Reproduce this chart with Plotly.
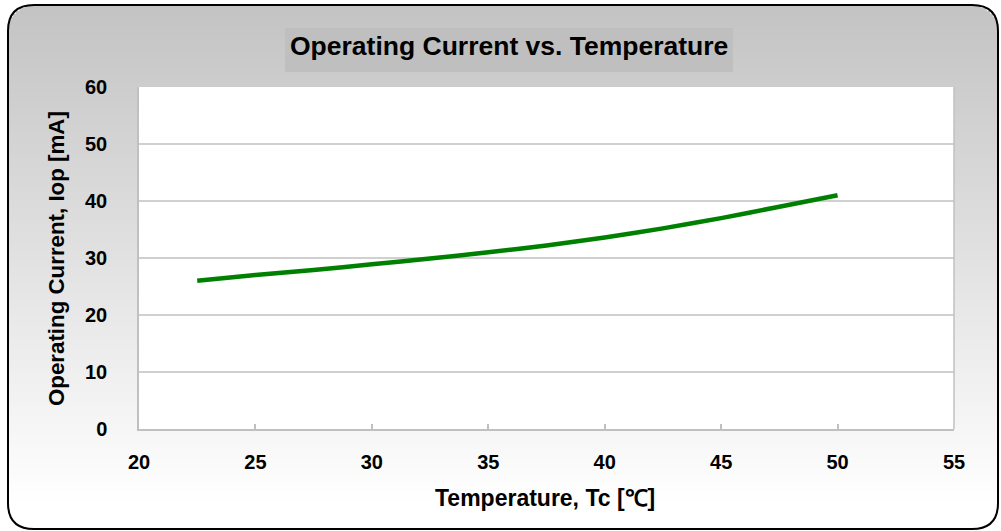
import math
import plotly.graph_objects as go

# ---- data ----
temperature_c = [22.5, 25, 27.5, 30, 32.5, 35, 37.5, 40, 42.5, 45, 47.5, 50]
current_ma = [26.0, 27.0, 27.9, 28.9, 29.9, 31.0, 32.2, 33.6, 35.2, 37.0, 39.0, 41.0]
x_ticks = [20, 25, 30, 35, 40, 45, 50, 55]
y_ticks = [0, 10, 20, 30, 40, 50, 60]
title_text = "Operating Current vs. Temperature"
x_title = "Temperature, Tc [℃]"
y_title = "Operating Current, Iop [mA]"

W, H = 1001, 531
L, R, T, B = 139, 954, 87, 429


def px(x):
    return (x - L) / (R - L)


def py(y):
    return (B - y) / (B - T)


shapes = []
# gradient background clipped to rounded rectangle
bx0, bx1, by0, by1, rad = 8, 998, 5, 529, 26
step = 3
y = by0
while y < by1:
    yc = y + step / 2
    t = (yc - by0) / (by1 - by0)
    g = int(round(195 + (255 - 195) * min(1.0, t * 1.05)))
    inset = 0.0
    if yc < by0 + rad:
        d = by0 + rad - yc
        inset = rad - math.sqrt(max(0.0, rad * rad - d * d))
    elif yc > by1 - rad:
        d = yc - (by1 - rad)
        inset = rad - math.sqrt(max(0.0, rad * rad - d * d))
    shapes.append(dict(type="rect", xref="paper", yref="paper", layer="below",
                       x0=px(bx0 + inset), x1=px(bx1 - inset),
                       y0=py(y), y1=py(min(y + step + 0.6, by1)),
                       line=dict(width=0), fillcolor=f"rgb({g},{g},{g})"))
    y += step

# rounded border
def P(x, y):
    return f"{px(x)},{py(y)}"

path = (f"M {P(bx0 + rad, by0)} L {P(bx1 - rad, by0)} Q {P(bx1, by0)} {P(bx1, by0 + rad)} "
        f"L {P(bx1, by1 - rad)} Q {P(bx1, by1)} {P(bx1 - rad, by1)} "
        f"L {P(bx0 + rad, by1)} Q {P(bx0, by1)} {P(bx0, by1 - rad)} "
        f"L {P(bx0, by0 + rad)} Q {P(bx0, by0)} {P(bx0 + rad, by0)} Z")
shapes.append(dict(type="path", path=path, xref="paper", yref="paper", layer="below",
                   line=dict(color="#000000", width=2)))

# title box
shapes.append(dict(type="rect", xref="paper", yref="paper", layer="below",
                   x0=px(285), x1=px(733), y0=py(28), y1=py(72),
                   line=dict(width=0), fillcolor="#bfbfbf"))
# white plot area
shapes.append(dict(type="rect", xref="paper", yref="paper", layer="below",
                   x0=0, x1=1, y0=0, y1=1, line=dict(width=0), fillcolor="#ffffff"))
# right edge of plot area
shapes.append(dict(type="line", xref="paper", yref="paper", layer="above",
                   x0=1, x1=1, y0=0, y1=1, line=dict(color="#c0c0c0", width=1.5)))

fig = go.Figure()
fig.add_trace(go.Scatter(x=temperature_c, y=current_ma, mode="lines",
                         line=dict(color="#008000", width=4.5, shape="spline", smoothing=0.8),
                         hoverinfo="x+y", showlegend=False))

font = "Liberation Sans, Arial, sans-serif"
fig.update_layout(
    width=W, height=H,
    margin=dict(l=L, r=W - R, t=T, b=H - B),
    paper_bgcolor="#ffffff", plot_bgcolor="#ffffff",
    shapes=shapes,
    font=dict(family=font, color="#000000"),
    annotations=[
        dict(text="<b>" + title_text + "</b>", xref="paper", yref="paper",
             x=px(509), y=py(46), xanchor="center", yanchor="middle",
             showarrow=False, font=dict(size=26.5, family=font)),
        dict(text="<b>" + x_title + "</b>", xref="paper", yref="paper",
             x=px(545), y=py(498), xanchor="center", yanchor="middle",
             showarrow=False, font=dict(size=23, family=font)),
        dict(text="<b>" + y_title + "</b>", xref="paper", yref="paper",
             x=px(56), y=py(259), xanchor="center", yanchor="middle",
             showarrow=False, textangle=-90, font=dict(size=22.3, family=font)),
    ],
    xaxis=dict(range=[20, 55], tickvals=x_ticks, ticktext=[f"<b>{v}</b>" for v in x_ticks],
               showgrid=False, zeroline=False, showline=True, linecolor="#c0c0c0", linewidth=1.5,
               ticks="inside", ticklen=5, tickcolor="#c0c0c0", tickwidth=1.5,
               tickfont=dict(size=20, family=font), ticklabelstandoff=14, fixedrange=True),
    yaxis=dict(range=[0, 60], tickvals=y_ticks, ticktext=[f"<b>{v}</b>" for v in y_ticks],
               showgrid=True, gridcolor="#d0d0d0", gridwidth=1.5, zeroline=False,
               showline=True, linecolor="#c0c0c0", linewidth=1.5,
               ticks="", tickfont=dict(size=20, family=font), ticklabelstandoff=26,
               fixedrange=True),
)

fig.write_html("out.html", config={"displayModeBar": False},
               post_script="document.body.style.margin='0';")
